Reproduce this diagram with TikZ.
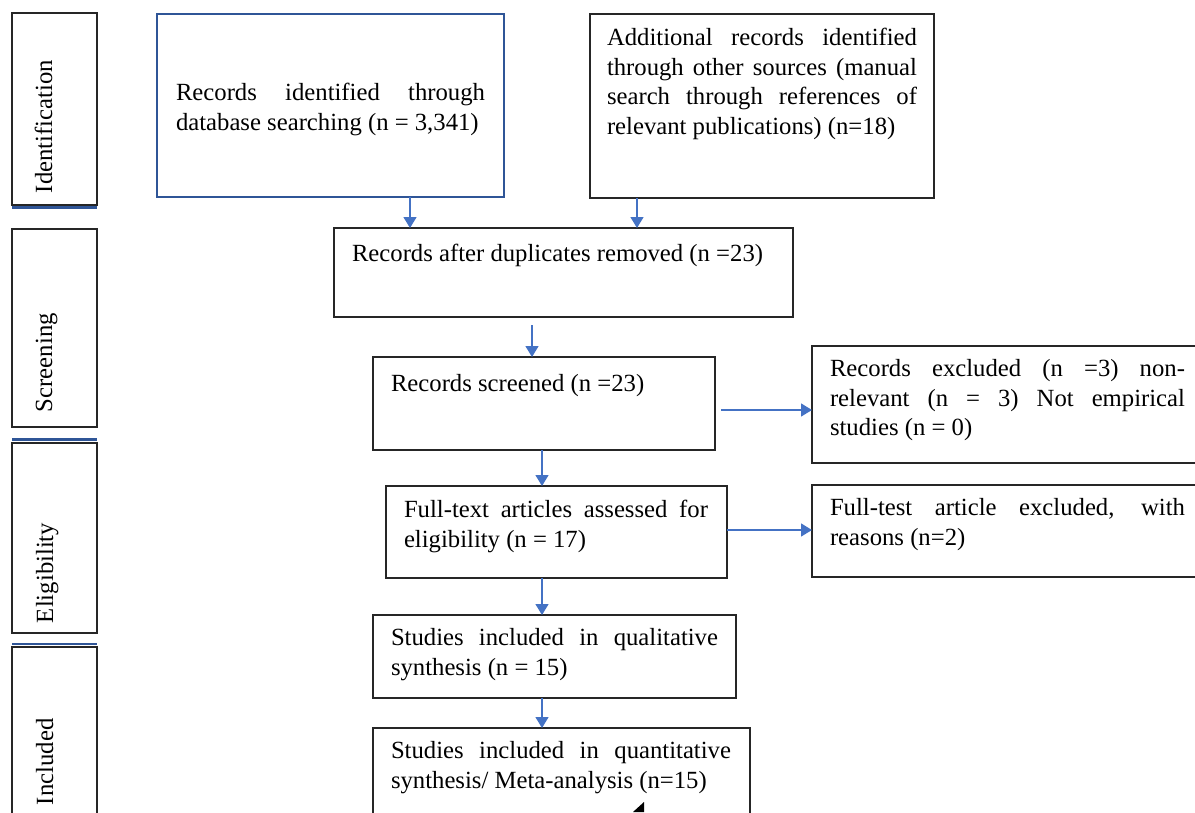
\documentclass[tikz,border=0pt]{standalone}
\usepackage{fontspec}
\setmainfont{Liberation Serif}
\usetikzlibrary{arrows.meta}
\definecolor{arrblue}{HTML}{4472C4}
\definecolor{boxblue}{HTML}{2F5597}
\hyphenpenalty=10000
\exhyphenpenalty=10000
\tolerance=10000
\begin{document}
\begin{tikzpicture}[x=1pt,y=-1pt,
  box/.style={draw=black!85, line width=1.4pt, inner sep=0pt, outer sep=0pt, anchor=north west},
  bluebox/.style={box, draw=boxblue, line width=2.4pt},
  txt/.style={inner sep=0pt, outer sep=0pt, align=justify, anchor=north west,
    font=\fontsize{24.7}{29.4}\selectfont},
  oneline/.style={inner sep=0pt, outer sep=0pt, anchor=base west, font=\fontsize{24.7}{29.4}\selectfont},
  vlab/.style={inner sep=0pt, outer sep=0pt, rotate=90, anchor=base west, font=\fontsize{24.7}{29.4}\selectfont},
  arr/.style={draw=arrblue, line width=1.4pt, -{Triangle[width=13pt,length=11pt]}},
  edgeblue/.style={draw=boxblue, line width=2.2pt}
]
\useasboundingbox (0,0) rectangle (1195,812);

% stage label boxes
\node[box, minimum width=85pt, minimum height=192pt] (L1) at (12,13) {};
\node[box, minimum width=85pt, minimum height=198pt] (L2) at (12,229) {};
\node[box, minimum width=85pt, minimum height=190pt] (L3) at (12,443) {};
\node[box, minimum width=85pt, minimum height=180pt] (L4) at (12,647) {};
\draw[edgeblue] (L1.south west) ++(0,2.5) -- ++(85,0);
\draw[edgeblue] (L3.north west) ++(0,-3.5) -- ++(85,0);
\draw[edgeblue] (L4.north west) ++(0,-3) -- ++(85,0);
\node[vlab] (t1) at (52,193) {Identification};
\node[vlab] (t2) at (52,412) {Screening};
\node[vlab] (t3) at (53,623) {Eligibility};
\node[vlab] (t4) at (53,805) {Included};

% flow boxes
\node[bluebox, minimum width=347pt, minimum height=183pt] (A) at (157,14) {};
\node[box, minimum width=344pt, minimum height=184pt] (B) at (590,14) {};
\node[box, minimum width=459pt, minimum height=89pt] (C) at (334,228) {};
\node[box, minimum width=342pt, minimum height=93pt] (D) at (373,357) {};
\node[box, minimum width=390pt, minimum height=117pt] (E) at (812,346) {};
\node[box, minimum width=341pt, minimum height=92pt] (F) at (386,486) {};
\node[box, minimum width=390pt, minimum height=92pt] (G) at (812,485) {};
\node[box, minimum width=363pt, minimum height=83pt] (H) at (373,615) {};
\node[box, minimum width=377pt, minimum height=100pt] (I) at (373,728) {};

% texts
\node[txt, text width=309pt] (At) at (176,80.4) {\strut Records identified through\linebreak database searching (n = 3,341)};
\node[txt, text width=310pt] (Bt) at (607,25.4) {\strut Additional records identified\linebreak through other sources (manual\linebreak search through references of\linebreak relevant publications) (n=18)};
\node[oneline] (Ct) at (352,261) {Records after duplicates removed (n =23)};
\node[oneline] (Dt) at (391,391) {Records screened (n =23)};
\node[txt, text width=355pt] (Et) at (830,356.4) {\strut Records excluded (n =3) non-\linebreak relevant (n = 3) Not empirical\linebreak studies (n = 0)};
\node[txt, text width=304pt] (Ft) at (404,497.4) {\strut Full-text articles assessed for\linebreak eligibility (n = 17)};
\node[txt, text width=355pt] (Gt) at (830,495.4) {\strut Full-test article excluded, with\linebreak reasons (n=2)};
\node[txt, text width=327pt] (Ht) at (391,625.4) {\strut Studies included in qualitative\linebreak synthesis (n = 15)};
\node[txt, text width=340pt] (It) at (391,738.4) {\strut Studies included in quantitative\linebreak synthesis/ Meta-analysis (n=15)};

% connectors
\coordinate (xa) at (410,0);
\coordinate (xb) at (637,0);
\coordinate (xc) at (532,0);
\coordinate (xd) at (542,0);
\coordinate (ya) at (0,410);
\coordinate (yb) at (0,530);
\draw[arr] (A.south -| xa) -- (C.north -| xa);
\draw[arr] (B.south -| xb) -- (C.north -| xb);
\draw[arr, shorten <=8pt] (C.south -| xc) -- (D.north -| xc);
\draw[arr, shorten <=6pt] (D.east |- ya) -- (E.west |- ya);
\draw[arr] (D.south -| xd) -- (F.north -| xd);
\draw[arr] (F.east |- yb) -- (G.west |- yb);
\draw[arr] (F.south -| xd) -- (H.north -| xd);
\draw[arr] (H.south -| xd) -- (I.north -| xd);

% small black mark at the bottom
\fill[black] (633,812) -- (644,802) -- (644,812) -- cycle;
\end{tikzpicture}
\end{document}
